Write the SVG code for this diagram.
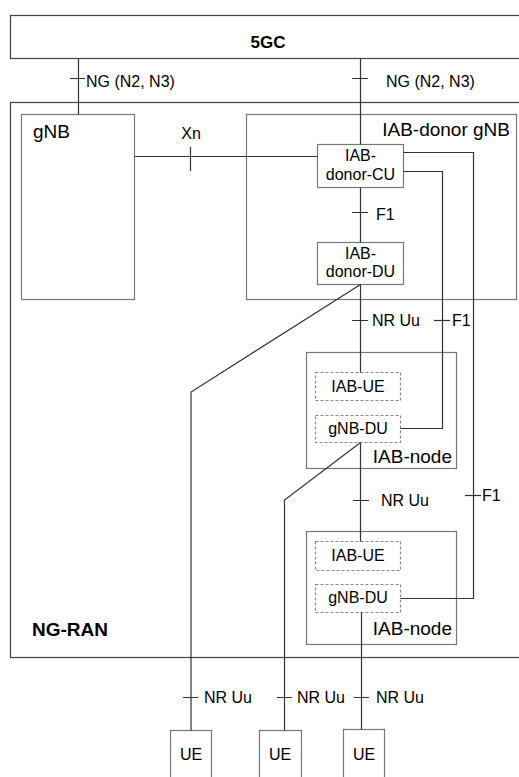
<svg xmlns="http://www.w3.org/2000/svg" width="519" height="777" viewBox="0 0 519 777">
<style>
text{font-family:"Liberation Sans",Arial,sans-serif;fill:#000}
.box{fill:#fff;stroke:#777;stroke-width:1.2}
.frame{fill:none;stroke:#444;stroke-width:1.2}
.dash{fill:#fff;stroke:#888;stroke-width:1.2;stroke-dasharray:3,2}
.ln{fill:none;stroke:#333;stroke-width:1.2}
.lbl{font-size:16px}
.in{font-size:16px;text-anchor:middle}
.big{font-size:19px}
.bold{font-weight:bold}
</style>
<rect width="519" height="777" fill="#fff"/>
<g id="ngc"><rect class="frame" x="10.5" y="15.5" width="520" height="43"/><text class="bold" x="268" y="48" font-size="17" text-anchor="middle">5GC</text></g>
<g id="ngran"><rect class="frame" x="10.5" y="102.5" width="520" height="555"/><text class="big bold" x="32" y="636">NG-RAN</text></g>
<g id="gnb"><rect class="box" x="21.5" y="114.5" width="113" height="185"/><text class="big" x="33" y="138">gNB</text></g>
<g id="donor"><rect class="box" x="246.5" y="114.5" width="270" height="185"/><text class="big" x="510" y="136" text-anchor="end">IAB-donor gNB</text></g>
<g id="cu"><rect class="box" x="317.5" y="144.5" width="86" height="43"/><text class="in" x="360.5" y="161">IAB-</text><text class="in" x="360.5" y="180">donor-CU</text></g>
<g id="du"><rect class="box" x="317.5" y="242.5" width="86" height="42"/><text class="in" x="360.5" y="259">IAB-</text><text class="in" x="360.5" y="277">donor-DU</text></g>
<g id="iabnode1"><rect class="box" x="306.5" y="352.5" width="150" height="116"/><text class="big" x="452" y="463" text-anchor="end">IAB-node</text></g>
<g id="iabue1"><rect class="dash" x="315.5" y="372.5" width="85" height="28"/><text class="in" x="358" y="392">IAB-UE</text></g>
<g id="gnbdu1"><rect class="dash" x="315.5" y="415.5" width="85" height="27"/><text class="in" x="358" y="434">gNB-DU</text></g>
<g id="iabnode2"><rect class="box" x="306.5" y="531.5" width="150" height="113"/><text class="big" x="452" y="635" text-anchor="end">IAB-node</text></g>
<g id="iabue2"><rect class="dash" x="315.5" y="541.5" width="85" height="29"/><text class="in" x="358" y="561">IAB-UE</text></g>
<g id="gnbdu2"><rect class="dash" x="315.5" y="584.5" width="85" height="28"/><text class="in" x="358" y="603">gNB-DU</text></g>
<g id="ue1"><rect class="box" x="170.5" y="730.5" width="41" height="60"/><text class="in" x="191" y="760">UE</text></g>
<g id="ue2"><rect class="box" x="259.5" y="730.5" width="42" height="60"/><text class="in" x="280" y="760">UE</text></g>
<g id="ue3"><rect class="box" x="343.5" y="729.5" width="41" height="60"/><text class="in" x="364" y="760">UE</text></g>
<g id="connectors">
<path class="ln" d="M78.5 58.5V114.5M70 78.5H85"/>
<text class="lbl" x="86" y="87">NG (N2, N3)</text>
<path class="ln" d="M360.5 58.5V144.5M352 78.5H368"/>
<text class="lbl" x="386" y="87">NG (N2, N3)</text>
<path class="ln" d="M134.5 156.5H317.5M190.5 147V171"/>
<text class="lbl" x="191" y="139" text-anchor="middle">Xn</text>
<path class="ln" d="M360.5 187.5V242.5M352 212.5H368"/>
<text class="lbl" x="376" y="220">F1</text>
<path class="ln" d="M403.5 152.5H473.5V598.5H400.5"/>
<path class="ln" d="M403.5 171.5H442.5V428.5H400.5"/>
<path class="ln" d="M360.5 284.5V372.5M352 320.5H368"/>
<text class="lbl" x="372" y="326">NR Uu</text>
<path class="ln" d="M434 320.5H450"/>
<text class="lbl" x="452" y="326">F1</text>
<path class="ln" d="M360.5 284.5L191 392V730.5"/>
<path class="ln" d="M360.5 442.5V541.5M353 500.5H369"/>
<text class="lbl" x="381" y="506">NR Uu</text>
<path class="ln" d="M465 495.5H481"/>
<text class="lbl" x="482" y="501">F1</text>
<path class="ln" d="M360.5 442.5L284.5 500V730.5"/>
<path class="ln" d="M361.5 612.5V729.5"/>
<path class="ln" d="M183 697.5H198M277 697.5H292M354 697.5H369"/>
<text class="lbl" x="204" y="703">NR Uu</text>
<text class="lbl" x="297" y="703">NR Uu</text>
<text class="lbl" x="376" y="703">NR Uu</text>
</g>
</svg>
